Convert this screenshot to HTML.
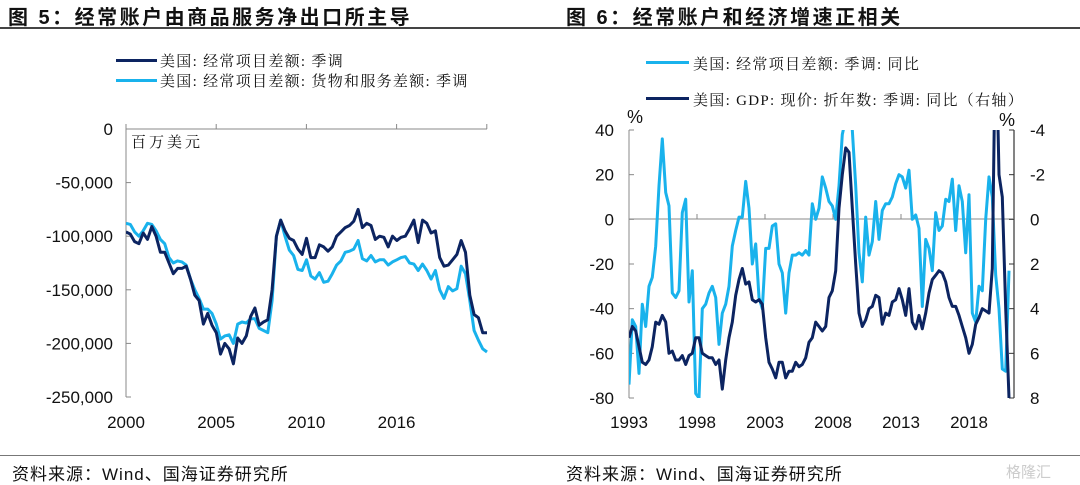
<!DOCTYPE html>
<html><head><meta charset="utf-8">
<style>
body{margin:0;width:1080px;height:485px;background:#fff;overflow:hidden;position:relative;font-family:"Liberation Sans","Noto Sans CJK SC",sans-serif}
.t{position:absolute;white-space:nowrap}
.title{font-family:"Liberation Sans","Noto Sans CJK SC",sans-serif;font-weight:bold;font-size:20px;letter-spacing:2.5px;top:1px;color:#111}
.leg{font-family:"Liberation Serif","Noto Serif CJK SC",serif;font-size:15px;letter-spacing:1.3px;color:#111}
.src{font-family:"Liberation Sans","Noto Sans CJK SC",sans-serif;font-size:17px;letter-spacing:1px;top:460px;color:#111}
</style></head><body>
<div class="t title" style="left:8px">图 5：经常账户由商品服务净出口所主导</div>
<div class="t title" style="left:566px">图 6：经常账户和经济增速正相关</div>
<div style="position:absolute;left:0;top:27px;width:1080px;height:2px;background:#444"></div>
<div style="position:absolute;left:0;top:455px;width:1080px;height:1px;background:#777"></div>
<div class="t src" style="left:12px">资料来源：Wind、国海证券研究所</div>
<div class="t src" style="left:566px">资料来源：Wind、国海证券研究所</div>
<div class="t" style="left:1006px;top:461px;font-size:15px;color:#ccc">格隆汇</div>

<div>
<div style="position:absolute;left:116px;top:59px;width:41px;height:3px;background:#0c2461"></div>
<div class="t leg" style="left:160px;top:50px">美国: 经常项目差额: 季调</div>
<div style="position:absolute;left:116px;top:79px;width:41px;height:3px;background:#19b2ec"></div>
<div class="t leg" style="left:160px;top:70px">美国: 经常项目差额: 货物和服务差额: 季调</div>
</div>
<div>
<div style="position:absolute;left:646px;top:61px;width:43px;height:3px;background:#19b2ec"></div>
<div class="t leg" style="left:693px;top:53px">美国: 经常项目差额: 季调: 同比</div>
<div style="position:absolute;left:646px;top:97px;width:43px;height:3px;background:#0c2461"></div>
<div class="t leg" style="left:693px;top:89px">美国: GDP: 现价: 折年数: 季调: 同比（右轴）</div>
</div>

<svg id="svg" width="1080" height="485" style="position:absolute;left:0;top:0">
<defs>
<clipPath id="c1"><rect x="126" y="129" width="362" height="270"/></clipPath>
<clipPath id="c2"><rect x="629" y="130" width="385" height="268"/></clipPath>
</defs>
</svg>
<script>
const leftTicks=[0,-50000,-100000,-150000,-200000,-250000];
const leftTickLabels=["0","-50,000","-100,000","-150,000","-200,000","-250,000"];
const leftXLabels=["2000","2005","2010","2016"];
const currentAccount=[-96,-98,-105,-107,-97,-103,-91,-100,-115,-115,-125,-135,-130,-130,-128,-140,-155,-160,-182,-172,-183,-190,-210,-200,-205,-219,-195,-200,-193,-175,-167,-183,-180,-178,-150,-100,-85,-95,-102,-104,-112,-117,-102,-120,-120,-108,-110,-114,-110,-100,-96,-92,-90,-86,-75,-92,-88,-90,-103,-100,-101,-110,-100,-104,-101,-100,-93,-85,-106,-85,-88,-97,-95,-120,-128,-127,-122,-117,-104,-115,-155,-173,-176,-190,-190];
const goodsServices=[-88,-89,-96,-100,-95,-88,-89,-95,-103,-107,-120,-125,-123,-124,-127,-140,-150,-158,-168,-168,-172,-182,-196,-193,-192,-200,-182,-180,-181,-177,-177,-186,-188,-190,-160,-100,-85,-100,-113,-118,-131,-132,-122,-137,-140,-134,-143,-142,-135,-127,-123,-115,-114,-112,-104,-121,-123,-118,-124,-122,-122,-127,-124,-122,-120,-119,-125,-126,-132,-126,-132,-140,-132,-150,-158,-147,-151,-149,-128,-135,-160,-188,-197,-205,-208];
const rightLeftTicks=[40,20,0,-20,-40,-60,-80];
const rightRightTicks=[-4,-2,0,2,4,6,8];
const rightXLabels=["1993","1998","2003","2008","2013","2018"];
const caYoy=[-74,-45,-48,-69,-38,-48,-30,-26,-12,15,36,12,6,-33,-35,-32,3,9,-37,-23,-78,-80,-40,-38,-33,-30,-35,-56,-42,-38,-30,-12,-5,1,1,17,5,-20,-11,-35,-40,-13,-13,-3,-2,-20,-24,-42,-24,-16,-16,-15,-16,-14,-16,7,0,5,19,14,8,6,0,15,38,45,45,40,15,-15,-28,1,-16,-10,8,-9,4,7,7,10,16,20,19,14,22,0,2,-4,-39,-9,-13,-23,3,-5,-3,9,8,18,-5,15,8,-15,11,-42,-46,-30,-32,0,19,10,-25,-40,-67,-68,-23];
const gdpYoy=[5.3,4.8,5.0,5.7,6.4,6.5,6.3,5.7,4.6,4.7,4.3,4.6,6.0,5.9,6.3,6.3,6.1,6.5,6.1,6.0,5.3,5.3,6.0,6.1,6.2,6.2,6.5,6.3,7.6,6.3,5.3,4.6,3.4,2.7,2.2,2.9,2.8,3.6,3.7,3.6,3.8,5.3,6.4,6.7,7.1,6.4,6.4,7.1,6.8,6.8,6.4,6.6,6.5,6.2,5.5,5.3,4.6,4.8,5.0,4.8,3.5,3.2,2.3,-0.5,-2.0,-3.2,-3.0,-0.5,2.0,4.2,4.8,4.5,4.0,3.9,3.4,3.5,4.7,4.2,4.3,3.7,3.6,3.1,3.6,4.3,3.1,4.6,4.9,4.3,4.9,4.2,3.3,2.7,2.5,2.3,2.4,2.8,3.5,3.9,3.9,4.3,4.8,5.3,6.0,5.6,4.7,4.4,4.0,4.1,4.2,2.2,-9.0,-2.0,-1.0,4.0,8.0];

const svg=document.getElementById('svg');const NS='http://www.w3.org/2000/svg';
function mk(t,a,parent){const e=document.createElementNS(NS,t);for(const k in a)e.setAttribute(k,a[k]);(parent||svg).appendChild(e);return e;}
const lx=i=>126+i*(487-126)/(currentAccount.length-1);
const ly=v=>129+(-v)/250000*268;
const ax1=mk('g',{});


mk('line',{x1:126,y1:129,x2:126,y2:397,stroke:'#888','stroke-width':1},ax1);
mk('line',{x1:126,y1:129,x2:487,y2:129,stroke:'#888','stroke-width':1},ax1);
leftTicks.forEach((v,i)=>{
 mk('line',{x1:126,y1:ly(v),x2:131,y2:ly(v),stroke:'#888'},ax1);
 const t=mk('text',{x:113,y:ly(v)+6,'text-anchor':'end','font-size':17,fill:'#111'},ax1);
 
 
 t.textContent=leftTickLabels[i];
});
[0,1,2,3,4].forEach(k=>{const x=126+k*90.2;mk('line',{x1:x,y1:129,x2:x,y2:124,stroke:'#888'},ax1);});
leftXLabels.forEach((s,k)=>{
 const t=mk('text',{x:126+k*90.2,y:428,'text-anchor':'middle','font-size':17,fill:'#111'},ax1);
 
 
 t.textContent=s;
});
const u=mk('text',{x:131,y:147,'font-size':15,fill:'#111','font-family':'"Liberation Serif","Noto Serif CJK SC",serif','letter-spacing':'3'});


u.textContent='百万美元';
function line(vals,fx,fy,color,clip,name){
 const p=mk('path',{d:vals.map((v,i)=>(i?'L':'M')+fx(i).toFixed(1)+','+fy(v).toFixed(1)).join(''),fill:'none',stroke:color,'stroke-width':3,'stroke-linejoin':'round','clip-path':'url(#'+clip+')'});
 
 
}
line(goodsServices,lx,v=>ly(v*1000),'#19b2ec','c1','series-goods-services');
line(currentAccount,lx,v=>ly(v*1000),'#0c2461','c1','series-current-account');
const rx=i=>629+i*(10/3);
const ryL=v=>130+(40-v)/120*268;
const ryR=v=>130+(v+4)/12*268;
const ax2=mk('g',{});


mk('line',{x1:629,y1:130,x2:629,y2:398,stroke:'#888'},ax2);
mk('line',{x1:1014,y1:130,x2:1014,y2:398,stroke:'#333','stroke-width':1.2},ax2);
mk('line',{x1:629,y1:219,x2:1014,y2:219,stroke:'#888'},ax2);
rightLeftTicks.forEach(v=>{
 mk('line',{x1:629,y1:ryL(v),x2:634,y2:ryL(v),stroke:'#888'},ax2);
 const t=mk('text',{x:614,y:ryL(v)+6,'text-anchor':'end','font-size':17,fill:'#111'},ax2);
 
 
 t.textContent=String(v);
});
rightRightTicks.forEach(v=>{
 mk('line',{x1:1014,y1:ryR(v),x2:1009,y2:ryR(v),stroke:'#333'},ax2);
 const t=mk('text',{x:1030,y:ryR(v)+6,'text-anchor':'start','font-size':17,fill:'#111'},ax2);
 
 
 t.textContent=String(v);
});
rightXLabels.forEach((s,k)=>{
 const x=629+k*68;
 mk('line',{x1:x,y1:219,x2:x,y2:214,stroke:'#888'},ax2);
 const t=mk('text',{x:x,y:428,'text-anchor':'middle','font-size':17,fill:'#111'},ax2);
 
 
 t.textContent=s;
});
const p1=mk('text',{x:627,y:123,'font-size':18,fill:'#111'});


p1.textContent='%';
const p2=mk('text',{x:999,y:126,'font-size':18,fill:'#111'});


p2.textContent='%';
line(caYoy,rx,ryL,'#19b2ec','c2','series-ca-yoy');
line(gdpYoy,rx,ryR,'#0c2461','c2','series-gdp-yoy');
</script>
</body></html>
